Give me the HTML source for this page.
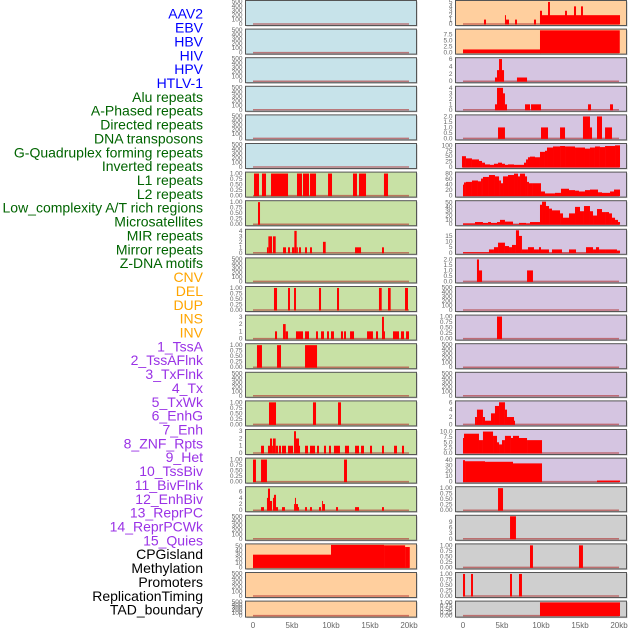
<!DOCTYPE html>
<html><head><meta charset="utf-8"><style>
body{margin:0;background:#fff;}
svg{display:block;font-family:"Liberation Sans",sans-serif;}
</style></head><body>
<svg id="chart" width="630" height="630" viewBox="0 0 630 630"></svg>
<script>
const trackNames = ["AAV2","EBV","HBV","HIV","HPV","HTLV-1","Alu repeats","A-Phased repeats","Directed repeats","DNA transposons","G-Quadruplex forming repeats","Inverted repeats","L1 repeats","L2 repeats","Low_complexity A/T rich regions","Microsatellites","MIR repeats","Mirror repeats","Z-DNA motifs","CNV","DEL","DUP","INS","INV","1_TssA","2_TssAFlnk","3_TxFlnk","4_Tx","5_TxWk","6_EnhG","7_Enh","8_ZNF_Rpts","9_Het","10_TssBiv","11_BivFlnk","12_EnhBiv","13_ReprPC","14_ReprPCWk","15_Quies","CPGisland","Methylation","Promoters","ReplicationTiming","TAD_boundary"];
const trackGroups = ["virus","virus","virus","virus","virus","virus","repeat","repeat","repeat","repeat","repeat","repeat","repeat","repeat","repeat","repeat","repeat","repeat","repeat","sv","sv","sv","sv","sv","chrom","chrom","chrom","chrom","chrom","chrom","chrom","chrom","chrom","chrom","chrom","chrom","chrom","chrom","chrom","other","other","other","other","other"];
const xTicks = [0,5,10,15,20];
const xTickLabels = ["0","5kb","10kb","15kb","20kb"];
// sparse bars: [startKb, endKb, value]
const aluBars = [[0.13,0.77,1],[1.15,1.67,1],[2.31,4.49,1],[5.64,6.28,1],[6.41,7.18,1],[7.31,8.08,1],[9.62,10.13,1],[12.82,13.33,1],[13.59,14.49,1],[16.79,17.31,1]];
const aPhasedBars = [[0.64,0.9,1]];
const directedBars = [[1.79,1.97,1],[1.97,2.44,3],[2.56,2.91,3],[3.85,4.23,1],[4.49,4.74,1],[5.0,5.3,1],[5.3,5.6,4],[5.6,5.75,1],[5.9,6.15,1],[6.67,6.92,1],[7.31,7.56,1],[8.97,9.32,2],[13.08,13.85,1],[16.54,16.79,1]];
const gquadBars = [[2.69,3.08,1],[4.49,4.74,1],[5.26,5.51,1],[8.46,8.72,1],[10.77,11.03,1],[16.15,16.5,1],[17.31,17.65,1],[19.49,19.87,1]];
const invertedBars = [[2.82,3.08,1],[3.85,4.19,2],[4.19,4.49,1],[5.51,6.41,1],[6.67,7.18,1],[8.08,8.33,1],[8.72,9.1,1],[9.49,9.74,1],[10.0,10.38,1],[11.28,11.54,1],[11.67,11.92,1],[12.44,12.95,1],[14.62,15.0,1],[15.0,15.38,1],[15.77,16.03,1],[16.54,16.79,3],[16.79,16.92,1],[17.95,18.72,1],[18.97,19.36,1],[19.62,20.0,1]];
const l1Bars = [[0.51,1.15,1],[3.08,3.59,1],[6.67,8.21,1]];
const lowComplexBars = [[2.05,2.95,1],[7.69,8.08,1],[10.9,11.28,1]];
const microBars = [[1.03,1.41,1],[1.92,2.18,1],[2.18,2.44,2],[2.44,2.56,1],[2.56,2.91,2],[2.91,3.21,1],[3.33,3.59,1],[3.72,4.23,1],[4.49,5.13,1],[5.26,5.51,3],[5.51,5.9,2],[5.9,6.03,1],[6.67,7.05,1],[7.31,7.95,1],[8.21,8.46,1],[9.1,9.36,1],[9.74,10.0,1],[10.38,11.15,1],[11.79,12.31,1],[13.08,13.59,1],[13.85,14.23,1],[15.0,15.26,1],[16.54,16.79,1],[18.08,18.46,1],[19.1,19.36,1]];
const mirBars = [[0,0.38,1],[1.03,1.79,1],[11.67,12.05,1]];
const mirrorBars = [[1.03,1.41,1],[1.79,1.92,4],[1.92,2.18,7],[2.18,2.44,3],[2.56,2.69,4],[2.69,2.95,5],[2.95,3.21,1],[3.72,4.1,1],[5.26,5.38,2],[5.38,5.51,4],[5.51,5.77,2],[5.77,5.9,1],[6.67,6.92,1],[7.31,7.56,1],[8.46,8.72,1],[8.85,8.97,3],[8.97,9.23,2],[10.64,10.9,1],[13.08,13.59,1],[16.54,16.79,1]];
const cnvBars = [[0,10,30],[10,16.8,53],[16.8,19.5,52],[19.5,20.1,48]];
const insBars = [[9.87,20.13,2],[2.69,2.95,1],[5.38,5.51,2],[5.51,5.9,1],[6.67,6.92,1],[9.1,9.36,1],[9.87,10.13,3],[10.9,11.15,5],[13.08,13.33,3],[14.23,14.49,4],[15.13,15.38,4]];
const invBars = [[0,10,1.3],[9.87,20.1,9.2]];
const tssABars = [[4.1,4.36,1],[4.36,4.62,3],[4.62,5.0,6],[5.0,5.26,3],[6.92,8.21,1]];
const tssAFlnkBars = [[4.1,4.36,1],[4.36,5.13,4],[5.13,5.38,3],[5.38,5.64,1],[7.95,8.59,1],[8.72,10.0,1],[16.03,16.41,1],[18.85,19.23,1]];
const txFlnkBars = [[4.49,5.38,1],[10.0,10.9,1],[12.44,13.08,1],[15.38,16.28,2],[16.28,16.54,1],[17.18,17.82,2],[18.21,19.1,1]];
// dense step profiles: edges (kb) + values
const txEdges = [-0.13,0.38,1.15,2.05,2.44,2.82,3.46,3.97,4.49,5.0,5.38,5.77,6.54,7.82,8.08,8.33,8.59,9.23,9.87,10.51,10.77,11.54,12.44,13.08,14.36,15.64,16.28,16.92,17.56,18.21,19.49,20.13];
const txValues = [50,40,35,28,20,12,10,15,20,15,10,12,10,20,35,45,48,45,70,75,90,95,97,95,90,85,90,95,92,97,100];
const txWkEdges = [0,0.13,0.38,1.15,1.92,2.31,2.56,3.33,4.1,4.62,4.87,5.13,5.77,6.54,7.05,7.31,7.95,8.21,8.46,8.97,10.0,10.51,11.79,12.56,13.59,14.36,14.87,15.64,16.28,17.31,17.82,18.85,19.36,20.13];
const txWkValues = [40,48,50,55,52,62,68,75,70,55,45,70,75,80,70,80,70,50,45,45,15,8,10,25,20,18,15,20,22,12,10,15,22];
const enhGEdges = [0,1.54,2.56,3.21,3.59,4.36,4.74,5.38,6.41,7.18,8.08,8.59,9.87,10.13,10.64,11.03,11.41,12.44,12.82,13.59,14.36,15.0,15.51,16.28,16.67,17.18,17.82,18.21,18.72,19.1,19.49,19.87,20.13];
const enhGValues = [2,5,3,5,3,5,10,6,0,3,2,5,45,52,42,36,32,25,15,25,40,30,42,30,20,35,28,28,25,15,10,5];
const enhEdges = [0,3.33,3.97,4.49,5.38,5.9,6.28,6.79,7.18,7.56,8.33,9.1,9.74,10.0,11.03,11.41,12.69,13.59,14.49,15.77,16.67,17.05,17.44,18.33,19.74,20.13];
const enhValues = [0.5,3,5,9,6,5,7,20,15,3,5,3,5,3,0,3,0,3,0,5,3,5,3,3,2];
const znfBars = [[1.79,2.05,2],[2.05,2.44,1],[8.21,8.97,1]];
const tssBivBars = [[4.36,5.0,1]];
const reprPCEdges = [1.54,1.79,2.56,2.82,3.59,4.1,4.62,5.38,5.64,6.54,6.67];
const reprPCValues = [2,4,2,1,3,5,6,4,2,1];
const reprPCWkEdges = [0,0.13,2.05,2.56,3.85,4.36,4.62,5.0,5.38,6.15,6.41,7.18,8.21,10.13];
const reprPCWkValues = [7,9,6,10,8,5,4,6,8,7,8,7,6];
const quiesBars = [[0,0.26,40],[0.26,2.82,38],[2.82,6.41,37],[6.41,10.13,34],[17.18,20.13,2]];
const cpgBars = [[4.49,5.13,1]];
const methylBars = [[6.03,6.79,12]];
const promoterBars = [[8.59,8.97,1],[14.87,15.38,1]];
const replBars = [[0,0.26,1],[1.03,1.28,1],[6.03,6.28,1],[7.18,7.56,1]];
const tadBars = [[9.87,20.13,1]];
const emptyTicks = ["0","100","200","300","400","500"];
const unitTicks = ["0.00","0.25","0.50","0.75","1.00"];

function stepsToBars(edges, values){const b=[];for(let i=0;i<values.length;i++)b.push([edges[i],edges[i+1],values[i]]);return b;}
const E = {bars:[],ymax:500,ticks:[0,100,200,300,400,500],labels:emptyTicks};
const U = (bars)=>({bars,ymax:1.02,ticks:[0,0.25,0.5,0.75,1],labels:unitTicks});
const T = (bars,ymax,ticks,labels)=>({bars,ymax,ticks,labels:labels||ticks.map(String)});
const panels = [
 E,E,E,E,E,E,
 U(aluBars),U(aPhasedBars),T(directedBars,4.1,[0,1,2,3,4]),E,U(gquadBars),T(invertedBars,3.1,[0,1,2,3]),U(l1Bars),E,U(lowComplexBars),T(microBars,3.1,[0,1,2,3]),U(mirBars),T(mirrorBars,7.3,[0,2,4,6]),E,
 T(cnvBars,53,[0,10,20,30,40,50]),E,E,
 T(insBars,5.1,[0,1,2,3,4,5]),T(invBars,9.3,[0,2.5,5,7.5],["0.0","2.5","5.0","7.5"]),
 T(tssABars,6.1,[0,2,4,6]),T(tssAFlnkBars,4.1,[0,1,2,3,4]),T(txFlnkBars,2.05,[0,0.5,1,1.5,2],["0.0","0.5","1.0","1.5","2.0"]),
 T(stepsToBars(txEdges,txValues),104,[0,25,50,75,100]),T(stepsToBars(txWkEdges,txWkValues),82,[0,20,40,60,80]),
 T(stepsToBars(enhGEdges,enhGValues),52,[0,10,20,30,40,50]),T(stepsToBars(enhEdges,enhValues),20,[0,5,10,15]),
 T(znfBars,2.05,[0,0.5,1,1.5,2],["0.0","0.5","1.0","1.5","2.0"]),E,U(tssBivBars),E,E,
 T(stepsToBars(reprPCEdges,reprPCValues),6.1,[0,2,4,6]),T(stepsToBars(reprPCWkEdges,reprPCWkValues),10.5,[0,2.5,5,7.5,10],["0.0","2.5","5.0","7.5","10.0"]),
 T(quiesBars,42,[0,10,20,30,40]),
 U(cpgBars),T(methylBars,12,[0,3,6,9]),U(promoterBars),U(replBars),U(tadBars)
];
const groupColor = {virus:"#0000ff",repeat:"#006400",sv:"#ffa500",chrom:"#9a32e6",other:"#000000"};
const bgColor = {virus:"#c7e3ea",repeat:"#c8e1a5",sv:"#ffcf9e",chrom:"#d5c5e1",other:"#cfcfcf"};

const NS="http://www.w3.org/2000/svg";
const svg=document.getElementById("chart");
function mk(tag,attrs,parent){const e=document.createElementNS(NS,tag);for(const k in attrs)e.setAttribute(k,attrs[k]);(parent||svg).appendChild(e);return e;}
function slug(s){return s.toLowerCase().replace(/[^a-z0-9]+/g,"-").replace(/^-|-$/g,"");}

// row labels
trackNames.forEach((n,i)=>{
  const t=mk("text",{x:203,y:15+i*13.86,"text-anchor":"end","dominant-baseline":"middle","font-size":"14",fill:groupColor[trackGroups[i]]});
  t.textContent=n;
  
  
});

const cols=[{x0:245.5,x1:416.5,k0:253,k1:409},{x0:455.5,x1:626.5,k0:463,k1:619}];
panels.forEach((p,i)=>{
  const c=cols[i<22?0:1], r=i%22;
  const top=0.5+r*28.6, h=(r===21?16:25), bot=top+h;
  const g=mk("g",{});
  
  
  const xs=kb=>c.k0+(kb/20)*(c.k1-c.k0);
  const y0=bot-1.5, y1=top+1;
  const ys=v=>y0-(Math.min(v,p.ymax)/p.ymax)*(y0-y1);
  mk("rect",{x:c.x0+1,y:top+1,width:c.x1-c.x0,height:h,fill:"#999",opacity:0.6},g);
  mk("rect",{x:c.x0,y:top,width:c.x1-c.x0,height:h,fill:bgColor[trackGroups[i]],stroke:"#555","stroke-width":1},g);
  mk("line",{x1:xs(0),x2:xs(20),y1:y0,y2:y0,stroke:"#b03030","stroke-width":1.5,opacity:0.6},g);
  p.bars.forEach(b=>{
    const s=Math.max(b[0],-0.13), e=b[1];
    const rc=mk("rect",{x:xs(s),y:ys(b[2]),width:Math.max(0.8,xs(e)-xs(s)),height:y0-ys(b[2])+0.5,fill:"#ff0000"},g);
    
    
  });
  p.ticks.forEach((t,j)=>{
    const tx=mk("text",{x:c.x0-3,y:ys(t)+2,"text-anchor":"end","font-size":"6.5",fill:"#666"},g);
    tx.textContent=p.labels[j];
    
    
  });
});
cols.forEach((c,ci)=>{
  xTicks.forEach((k,j)=>{
    const t=mk("text",{x:c.k0+(k/20)*(c.k1-c.k0),y:628,"text-anchor":"middle","font-size":"8",fill:"#666"});
    t.textContent=xTickLabels[j];
    
    
  });
});
</script>
</body></html>
